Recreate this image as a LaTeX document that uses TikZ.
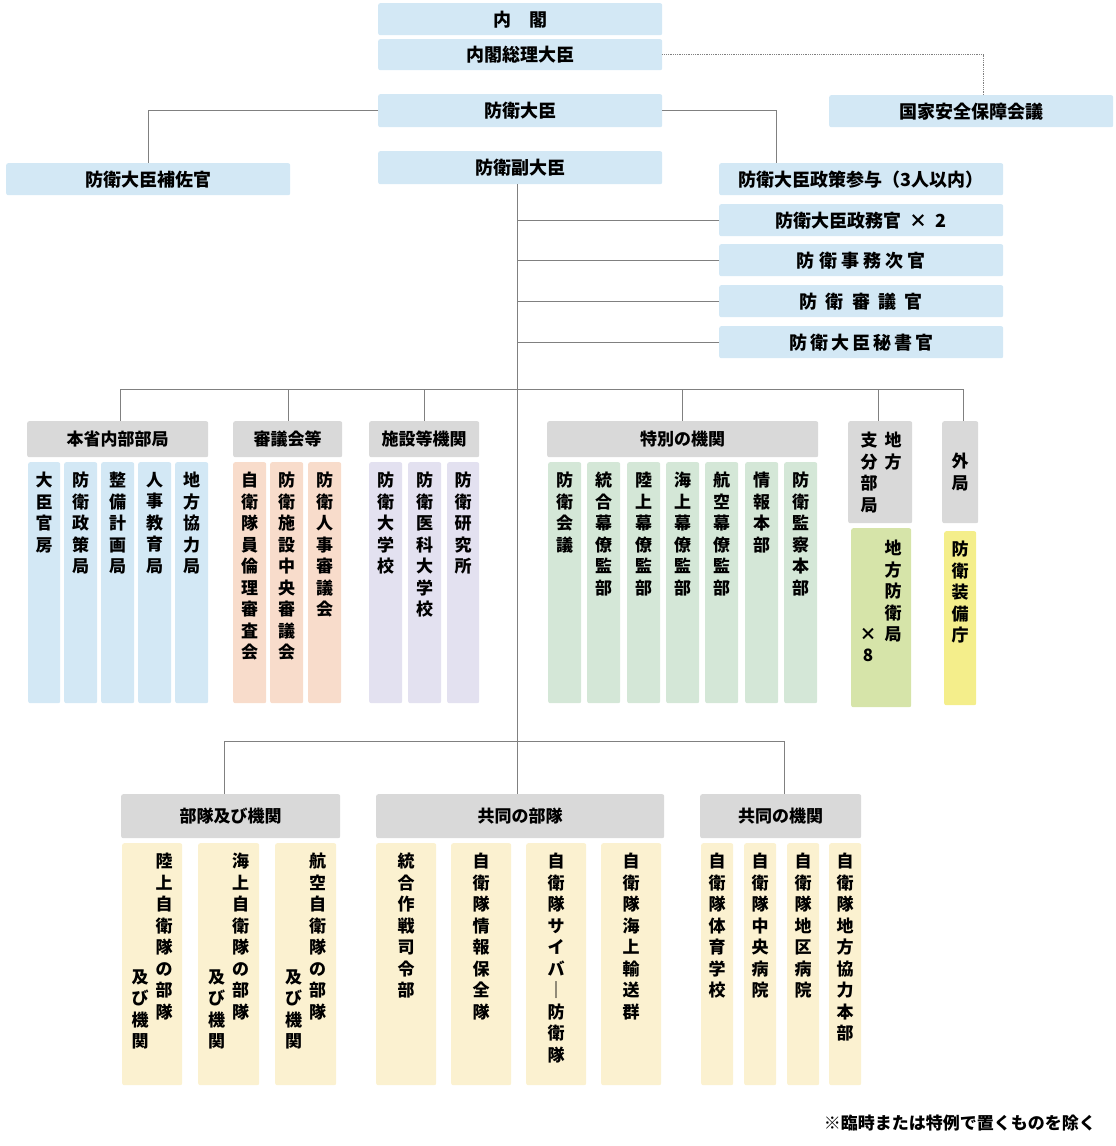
\documentclass[tikz,border=0pt]{standalone}
\usepackage{fontspec}
\setmainfont{Noto Sans CJK JP}
\usetikzlibrary{calc}
\definecolor{cb}{HTML}{D3E8F5}
\definecolor{cg}{HTML}{D9D9D9}
\definecolor{cs}{HTML}{F8DCCB}
\definecolor{cl}{HTML}{E3E1F0}
\definecolor{cgr}{HTML}{D4E7D7}
\definecolor{cc}{HTML}{FBF1D0}
\definecolor{cw}{HTML}{D6E4A9}
\definecolor{cy}{HTML}{F4EE8B}
\definecolor{ln}{HTML}{808080}
\def\vt#1{\vtaux#1\relax}
\def\vtaux#1#2{#1\ifx#2\relax\else\\\expandafter\vtaux\expandafter#2\fi}
\newcommand\bx[7]{\node[#6,anchor=north west,inner sep=0pt,rounded corners=2pt,minimum width={(#4-#2)*1pt},minimum height={(#5-#3)*1pt}] (#1) at (#2,#3) {#7};}
\newcommand\vx[8]{\bx{#1}{#2}{#3}{#4}{#5}{#6}{}\node[vtext,anchor=north] (#1t) at ($(#1.north)+(0,#7)$) {\vt{#8}};}
\tikzset{
 hb/.style={fill=cb,font=\fontsize{18}{20}\selectfont\bfseries},
 gh/.style={fill=cg,font=\fontsize{17}{20}\selectfont\bfseries},
 vtext/.style={align=center,inner sep=0pt,font=\fontsize{17}{21.5}\selectfont\bfseries},
 con/.style={draw=ln,line width=0.8pt},
}
\begin{document}
\begin{tikzpicture}[x=1pt,y=-1pt]
\useasboundingbox (0,0) rectangle (1116,1146);
% top
\bx{naikaku}{378}{3}{662}{35}{hb}{内　閣}
\bx{souri}{378}{39}{662}{70}{hb}{内閣総理大臣}
\bx{nss}{829}{95}{1113}{127}{hb}{国家安全保障会議}
\bx{daijin}{378}{94}{662}{127}{hb}{防衛大臣}
\bx{hosa}{6}{163}{290}{195}{hb}{防衛大臣補佐官}
\bx{fuku}{378}{151}{662}{184}{hb}{防衛副大臣}
\bx{sanyo}{719}{163}{1003}{195}{hb}{防衛大臣政策参与（3人以内）}
\bx{seimu}{719}{204}{1003}{236}{hb}{防衛大臣政務官\ \ ×\ \ 2}
\bx{jimu}{719}{244}{1003}{276}{hb}{防\ 衛\ 事\ 務\ 次\ 官}
\bx{shingi}{719}{285}{1003}{317}{hb}{防\ \ 衛\ \ 審\ \ 議\ \ 官}
\bx{hisho}{719}{326}{1003}{358}{hb}{防\,衛\,大\,臣\,秘\,書\,官}
\coordinate (dN) at (983,95);
\coordinate (sN) at (776,163);
\draw[con,densely dotted] (souri.east) -| (dN);
\draw[con] (daijin.west) -| (hosa.north);
\draw[con] (daijin.east) -| (sN);
\coordinate (tA) at (517,184);
\coordinate (tE) at (517,794);
\draw[con] (tA) -- (tE);
\foreach \n in {seimu,jimu,shingi,hisho} \draw[con] (\n.west) -- (\n.west -| tA);
% middle headers
\bx{honsho}{27}{421}{208}{457}{gh}{本省内部部局}
\bx{shingikai}{233}{421}{342}{457}{gh}{審議会等}
\bx{shisetsu}{369}{421}{479}{457}{gh}{施設等機関}
\bx{tokubetsu}{547}{421}{818}{457}{gh}{特別の機関}
\bx{chiho}{848}{421}{912}{523}{gh}{}
\node[vtext,anchor=north] (chiho1) at (893,432) {\vt{地方}};
\node[vtext,anchor=north] (chiho2) at (869,432) {\vt{支分部局}};
\bx{gaikyoku}{942}{421}{978}{523}{gh}{}
\node[vtext,anchor=north] (gaikyokut) at (960,453) {\vt{外局}};
\draw[con] (120,389) -- (963,389);
\foreach \n/\x in {honsho/120,shingikai/288,shisetsu/424,tokubetsu/682,chiho/878,gaikyoku/963} \draw[con] (\x,389) -- (\x,421);
% middle boxes
\vx{h1}{28}{462}{60}{703}{fill=cb}{10}{大臣官房}
\vx{h2}{64}{462}{97}{703}{fill=cb}{10}{防衛政策局}
\vx{h3}{101}{462}{134}{703}{fill=cb}{10}{整備計画局}
\vx{h4}{138}{462}{171}{703}{fill=cb}{10}{人事教育局}
\vx{h5}{175}{462}{208}{703}{fill=cb}{10}{地方協力局}
\vx{s1}{233}{462}{266}{703}{fill=cs}{10}{自衛隊員倫理審査会}
\vx{s2}{270}{462}{303}{703}{fill=cs}{10}{防衛施設中央審議会}
\vx{s3}{308}{462}{341}{703}{fill=cs}{10}{防衛人事審議会}
\vx{f1}{369}{462}{402}{703}{fill=cl}{10}{防衛大学校}
\vx{f2}{408}{462}{441}{703}{fill=cl}{10}{防衛医科大学校}
\vx{f3}{447}{462}{479}{703}{fill=cl}{10}{防衛研究所}
\vx{t1}{548}{462}{581}{703}{fill=cgr}{10}{防衛会議}
\vx{t2}{587}{462}{620}{703}{fill=cgr}{10}{統合幕僚監部}
\vx{t3}{627}{462}{660}{703}{fill=cgr}{10}{陸上幕僚監部}
\vx{t4}{666}{462}{699}{703}{fill=cgr}{10}{海上幕僚監部}
\vx{t5}{705}{462}{738}{703}{fill=cgr}{10}{航空幕僚監部}
\vx{t6}{745}{462}{778}{703}{fill=cgr}{10}{情報本部}
\vx{t7}{784}{462}{817}{703}{fill=cgr}{10}{防衛監察本部}
\bx{kyoku}{851}{528}{911}{707}{fill=cw}{}
\node[vtext,anchor=north] (kyoku1) at (893,540) {\vt{地方防衛局}};
\node[vtext,anchor=north] (kyoku2) at (868,628) {\vt{×8}};
\vx{soubi}{944}{531}{976}{705}{fill=cy}{10}{防衛装備庁}
% lower
\draw[con] (224,794) |- (784,741) -- (784,794);
\bx{butai}{121}{794}{340}{838}{gh}{部隊及び機関}
\bx{kbutai}{376}{794}{664}{838}{gh}{共同の部隊}
\bx{kkikan}{700}{794}{861}{838}{gh}{共同の機関}
\bx{b1}{122}{843}{182}{1085}{fill=cc}{}
\bx{b2}{198}{843}{259}{1085}{fill=cc}{}
\bx{b3}{275}{843}{336}{1085}{fill=cc}{}
\node[vtext,anchor=north] (b1a) at ($(b1.north)+(12,10)$) {\vt{陸上自衛隊の部隊}};
\node[vtext,anchor=north] (b2a) at ($(b2.north)+(12,10)$) {\vt{海上自衛隊の部隊}};
\node[vtext,anchor=north] (b3a) at ($(b3.north)+(12,10)$) {\vt{航空自衛隊の部隊}};
\node[vtext,anchor=north] (b1b) at ($(b1.north)+(-12,126)$) {\vt{及び機関}};
\node[vtext,anchor=north] (b2b) at ($(b2.north)+(-12,126)$) {\vt{及び機関}};
\node[vtext,anchor=north] (b3b) at ($(b3.north)+(-12,126)$) {\vt{及び機関}};
\vx{k1}{376}{843}{436}{1085}{fill=cc}{10}{統合作戦司令部}
\vx{k2}{451}{843}{511}{1085}{fill=cc}{10}{自衛隊情報保全隊}
\vx{k3}{526}{843}{586}{1085}{fill=cc}{10}{自衛隊サイバ｜防衛隊}
\vx{k4}{601}{843}{661}{1085}{fill=cc}{10}{自衛隊海上輸送群}
\vx{j1}{701}{843}{733}{1085}{fill=cc}{10}{自衛隊体育学校}
\vx{j2}{744}{843}{776}{1085}{fill=cc}{10}{自衛隊中央病院}
\vx{j3}{787}{843}{819}{1085}{fill=cc}{10}{自衛隊地区病院}
\vx{j4}{829}{843}{861}{1085}{fill=cc}{10}{自衛隊地方協力本部}
\node[anchor=east,inner sep=0pt,font=\fontsize{17}{20}\selectfont\bfseries] (note) at (1096,1123) {※臨時または特例で置くものを除く};
\end{tikzpicture}
\end{document}
